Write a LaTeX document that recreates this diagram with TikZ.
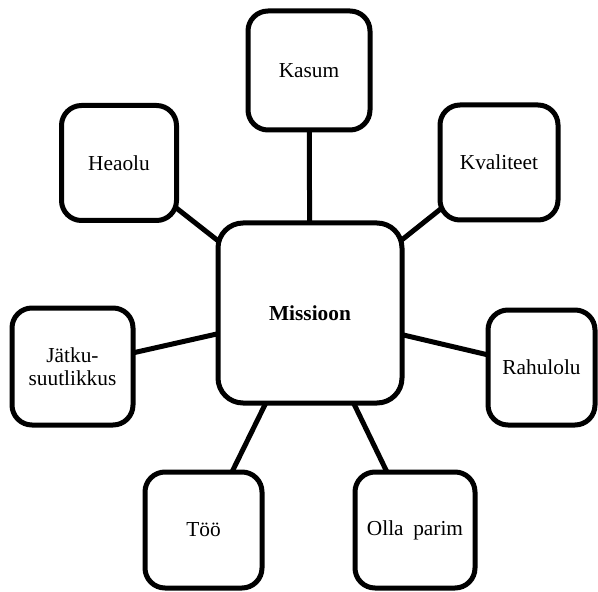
\documentclass[tikz,border=0pt]{standalone}
\usepackage{fontspec}
\setmainfont{Liberation Serif}
\usetikzlibrary{backgrounds}
\begin{document}
\begin{tikzpicture}[x=0.75pt,y=-0.75pt,
  box/.style={draw=black, fill=white, line width=3.75pt, rounded corners=15pt,
    inner sep=0pt, outer sep=0pt, align=center,
    font=\fontsize{16}{17.5}\selectfont},
  hub/.style={box, rounded corners=18.75pt,
    font=\bfseries\fontsize{16}{17.5}\selectfont},
  link/.style={draw=black, line width=3.75pt}]
\useasboundingbox (0,0) rectangle (598,591);

% central box
\node[hub, minimum width=138pt, minimum height=135pt] (m) at (310,313) {Missioon};

% surrounding boxes
\node[box, minimum width=91.5pt, minimum height=89.25pt] (kas) at (309,70.5) {Kasum};
\node[box, minimum width=86.25pt, minimum height=86.25pt] (hea) at (119,163) {Heaolu};
\node[box, minimum width=88.5pt, minimum height=86.25pt] (kva) at (499,162.5) {Kvaliteet};
\node[box, minimum width=90.75pt, minimum height=87.75pt] (jat) at (72.5,366.5) {Jätku-\\suutlikkus};
\node[box, minimum width=80.25pt, minimum height=86.25pt] (rah) at (541.5,367.5) {Rahulolu};
\node[box, minimum width=87.75pt, minimum height=87pt] (too) at (203.5,530) {Töö};
\node[box, minimum width=90pt, minimum height=87pt] (olla) at (415,530) {Olla\hspace{0.45em}parim};

% spokes, drawn behind the boxes
\begin{scope}[on background layer]
  \fill[white] (0,0) rectangle (598,591);
  \foreach \n in {kas,hea,kva,jat,rah,too,olla}
    \draw[link] (m.center) -- (\n.center);
\end{scope}
\end{tikzpicture}
\end{document}
